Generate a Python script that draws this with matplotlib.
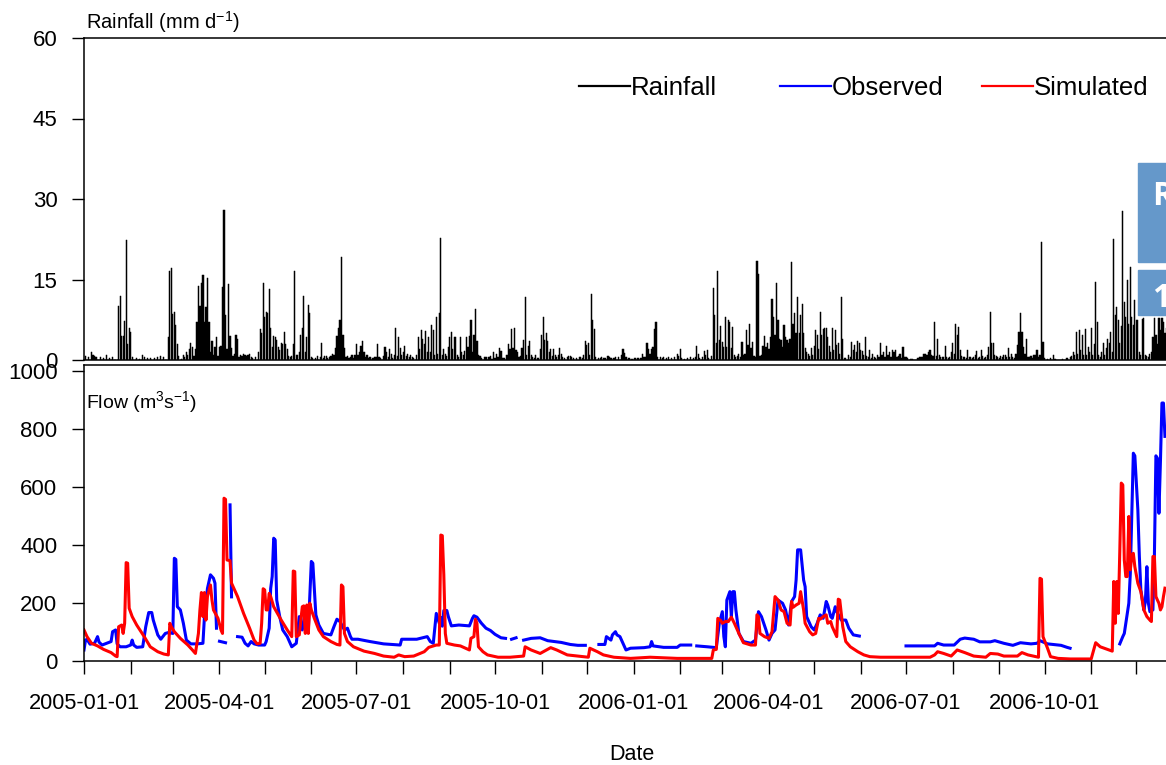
import numpy as np
import matplotlib
matplotlib.use("Agg")
import matplotlib.pyplot as plt
import matplotlib.dates as mdates
from matplotlib.patches import Rectangle
from matplotlib.ticker import FuncFormatter

plt.rcParams["font.family"] = ["Liberation Sans", "DejaVu Sans"]
plt.rcParams["mathtext.fontset"] = "custom"
plt.rcParams["mathtext.rm"] = "Liberation Sans"
plt.rcParams["mathtext.it"] = "Liberation Sans"

START = np.datetime64("2005-01-01")
NAN = float("nan")

# daily rainfall (mm/d) from 2005-01-01, ten days per row
rain_mm = [
    0, 0.8, 0, 0.5, 0, 1.5, 1.0, 0.7, 0.5, 0,
    0, 0.6, 0, 0.4, 0, 1.0, 0, 0.3, 0, 0.5,
    0, 0, 0, 10, 12, 4.5, 4.5, 7.3, 22.3, 3.0,
    5.9, 5.2, 0.5, 0, 0, 0.3, 0, 0.2, 0, 1.0,
    0.6, 0, 0.4, 0, 0.3, 0, 0, 0.4, 0, 0.6,
    0, 0.8, 0, 0.5, 0, 0, 4.2, 16.6, 17.2, 8.5,
    9.0, 6.5, 3.0, 0.8, 0, 0.2, 1.0, 0.5, 1.5, 1.0,
    2.0, 3.1, 2.5, 0.8, 2.0, 7.1, 13.8, 10.0, 14.4, 15.8,
    7.1, 9.8, 15.2, 7.1, 1.5, 3.6, 1.0, 2.4, 4.2, 0.8,
    2.5, 2.7, 13.6, 27.9, 8.3, 2.0, 14.1, 4.5, 2.3, 0.8,
    1.2, 4.7, 3.9, 0.5, 1.0, 0.8, 1.2, 1.0, 0.7, 1.0,
    1.2, 0.5, 0.3, 0, 0.5, 0, 1.5, 5.7, 5.0, 14.4,
    8.1, 9.0, 8.7, 13.2, 5.9, 2.5, 4.5, 4.3, 3.7, 2.5,
    1.8, 3.1, 3.0, 5.2, 2.9, 2.0, 0.8, 0.5, 0.8, 2.9,
    16.6, 1.0, 1.0, 1.5, 4.7, 6.0, 12.0, 1.5, 4.3, 10.2,
    8.7, 0.6, 0.3, 0, 0.4, 0.7, 0, 0.5, 3.1, 0.4,
    0.8, 0.8, 0.4, 0.6, 0.8, 1.2, 1.0, 2.2, 4.5, 5.9,
    7.5, 19.2, 4.7, 2.3, 0.6, 0.8, 0.3, 0.5, 0.9, 0.4,
    1.0, 2.9, 1.0, 1.5, 2.7, 3.6, 1.4, 0.6, 0.9, 0.4,
    0.6, 0, 0.3, 0.5, 0.5, 2.9, 0.6, 0.3, 0, 0.8,
    2.4, 1.5, 0.5, 2.0, 1.2, 0.4, 1.0, 6.0, 0.8, 4.2,
    2.2, 1.0, 1.4, 2.7, 0.8, 1.2, 0.5, 1.0, 0.5, 0.3,
    0, 1.0, 4.2, 2.0, 5.6, 4.0, 3.0, 5.4, 1.5, 4.2,
    1.5, 6.6, 5.5, 1.0, 8.0, 1.2, 8.7, 22.8, 1.0, 2.0,
    1.2, 0.8, 2.5, 4.3, 5.2, 2.0, 4.2, 4.2, 1.0, 0.5,
    4.2, 1.5, 1.0, 1.7, 4.2, 2.5, 4.5, 7.5, 1.5, 4.7,
    9.5, 3.6, 1.0, 0.8, 0.3, 0, 0.5, 0.6, 0, 0.5,
    0.8, 0.2, 1.4, 0.4, 1.2, 0.6, 2.2, 1.7, 0.4, 0.3,
    0, 1.0, 2.9, 2.0, 5.7, 2.2, 6.0, 1.8, 1.5, 0.5,
    0.8, 2.2, 3.7, 11.8, 0.9, 2.6, 3.6, 0.9, 0.6, 0.4,
    0.9, 0.3, 0.4, 2.0, 4.7, 8.0, 3.7, 5.1, 3.6, 1.5,
    2.0, 0.8, 2.0, 1.0, 0.5, 0.9, 2.3, 1.2, 0.5, 0.3,
    0, 0.6, 0.7, 0.8, 0.6, 0.4, 0, 0.3, 0, 0.5,
    0.6, 0.4, 1.0, 3.6, 2.8, 3.1, 0.9, 12.3, 7.5, 5.7,
    0.6, 0, 0.4, 0.3, 0.6, 0.4, 0.3, 0, 0.8, 0.6,
    0.4, 0, 0.3, 0.6, 0, 0.5, 0, 1.0, 2.0, 1.3,
    0.6, 0, 0.3, 0, 0.2, 0, 0.3, 0, 0.4, 0,
    0.3, 1.1, 0.5, 0.6, 3.1, 2.0, 1.2, 2.0, 2.5, 5.7,
    7.0, 0.5, 0, 0.6, 0.4, 0.5, 0, 0.3, 0.5, 0,
    0.3, 0, 0.6, 0, 1.1, 0.8, 2.0, 0.3, 0, 0.2,
    0, 0.3, 0, 0.5, 0, 0.3, 0.6, 2.6, 1.2, 0.3,
    0, 0.6, 1.7, 1.0, 1.9, 0.4, 0, 0.8, 13.4, 8.3,
    3.1, 16.5, 3.7, 6.4, 3.4, 2.5, 8.0, 2.5, 7.5, 7.1,
    2.3, 6.2, 1.0, 0.5, 0.8, 1.2, 0.5, 3.4, 1.0, 1.2,
    5.5, 2.8, 6.7, 2.2, 3.4, 0.8, 0.6, 18.4, 16.1, 0.8,
    1.0, 2.7, 4.5, 2.5, 3.1, 2.0, 4.3, 11.3, 8.0, 4.7,
    14.4, 7.5, 4.0, 3.7, 2.5, 6.5, 4.3, 3.7, 3.1, 3.9,
    18.2, 6.7, 8.7, 5.0, 11.8, 5.0, 8.4, 10.4, 5.0, 2.2,
    1.5, 1.2, 0.8, 2.3, 1.0, 2.6, 5.6, 4.7, 2.0, 9.0,
    4.7, 5.8, 5.9, 5.9, 4.3, 2.6, 1.5, 5.9, 1.9, 5.6,
    2.8, 3.1, 1.2, 11.8, 3.9, 0.4, 0.3, 0, 0.9, 0.6,
    3.4, 1.9, 2.8, 1.5, 3.6, 3.1, 1.9, 1.7, 1.0, 4.2,
    0.8, 0.5, 1.9, 0.4, 1.1, 0.6, 0.4, 0.9, 0.6, 3.2,
    1.0, 1.4, 0.5, 2.6, 1.0, 1.5, 0.6, 1.9, 1.4, 1.9,
    0.5, 0.8, 1.2, 0.4, 2.4, 0.5, 0.5, 0.3, 0, 0.2,
    0.1, 0, 0, 0, 0.3, 0.6, 0.5, 0.6, 1.1, 1.2,
    1.0, 1.4, 1.9, 1.0, 0.7, 7.0, 0.7, 3.9, 0.9, 0.6,
    0.6, 0.5, 2.6, 0.6, 0.3, 0.5, 1.5, 3.1, 1.2, 6.7,
    4.7, 6.2, 1.9, 0.8, 0.5, 0.6, 0.4, 1.9, 0.6, 0.5,
    0.3, 0.5, 0.9, 1.6, 0.4, 0.5, 1.9, 0.8, 0.3, 0.5,
    1.0, 2.5, 9.0, 3.1, 3.2, 1.0, 0.8, 0.5, 0.4, 0.8,
    0.5, 0.9, 1.0, 0.6, 2.2, 0.5, 1.2, 0.6, 0.3, 1.2,
    2.8, 5.3, 8.7, 5.3, 2.5, 1.2, 4.0, 0.5, 0.6, 0.8,
    0.4, 1.0, 0.9, 1.9, 0.5, 1.0, 22.0, 3.4, 0.3, 0,
    0.2, 0, 0.3, 0, 0.9, 0.2, 0, 0, 0, 0,
    0.1, 0, 0, 0.3, 0, 0.5, 0.8, 1.5, 1.0, 5.3,
    1.2, 5.6, 1.8, 4.7, 1.0, 5.8, 1.0, 2.5, 1.5, 5.9,
    1.0, 2.9, 14.6, 7.0, 1.0, 0.5, 1.5, 3.1, 1.0, 2.2,
    4.0, 3.1, 5.3, 1.5, 22.5, 8.4, 9.9, 7.5, 3.1, 6.3,
    27.8, 10.9, 8.1, 15.0, 6.8, 17.4, 8.1, 6.5, 11.2, 7.5,
    7.5, 1.5, 1.0, 7.6, 7.8, 1.0, 0.8, 0.6, 1.2, 1.5,
    4.3, 7.8, 4.7, 3.0, 7.8, 5.6, 7.8, 7.1, 5.0, 6.0,
]

# observed flow (m3/s), day offset from 2005-01-01; NaN marks missing record
obs_day = [0, 1, 2, 4, 7, 9, 10, 12, 15, 18, 19, 21, 22, 24, 28, 31, 32, 33, 35, 39,
           41, 43, 45, 46, 49, 51, 54, 56, 59, 60, 61, 62, 64, 66, 68, 71, 75, 79, 80, 82,
           84, 86, 87, 88, 89, 90, 94, 95, 97, 98, 99, 102, 105, 107, 109, 111, 113, 116, 120, 121,
           123, 124, 125, 126, 127, 128, 130, 132, 135, 138, 141, 143, 145, 147, 149, 151, 152, 154, 156, 159,
           164, 166, 168, 170, 173, 175, 177, 178, 182, 190, 199, 210, 211, 221, 228, 230, 232, 234, 236, 237,
           238, 239, 241, 242, 244, 249, 256, 258, 259, 261, 264, 267, 270, 273, 277, 280, 281, 284, 287, 288,
           292, 297, 303, 308, 317, 323, 328, 333, 334, 342, 346, 347, 350, 351, 353, 354, 356, 358, 360, 363,
           372, 376, 377, 378, 385, 394, 396, 403, 404, 407, 414, 420, 422, 424, 425, 426, 427, 429, 430, 431,
           432, 433, 435, 438, 443, 446, 448, 450, 453, 455, 457, 459, 461, 464, 466, 468, 470, 472, 473, 474,
           476, 478, 479, 480, 483, 485, 487, 489, 491, 493, 494, 496, 497, 499, 500, 503, 506, 508, 511, 515,
           516, 546, 565, 567, 571, 578, 582, 585, 591, 595, 602, 605, 611, 617, 622, 629, 633, 635, 640, 649,
           653, 655, 656, 688, 690, 691, 692, 694, 695, 696, 697, 698, 700, 701, 702, 704, 705, 706, 707, 708,
           710, 711, 712, 713, 714, 715, 716, 717, 718]
obs_flow = [38, 72, 75, 58, 61, 84, 65, 55, 61, 67, 101, 107, 59, 49, 49, 55, 72, 55, 47, 49,
            118, 167, 167, 141, 90, 75, 95, 98, 95, 354, 350, 187, 176, 130, 72, 59, 59, 61, 153, 250,
            297, 285, 268, 113, NAN, 68, 63, NAN, 538, 221, NAN, 84, 82, 61, 52, 67, 59, 55, 55, 67,
            113, 250, 291, 423, 417, 210, 153, 107, 84, 49, 61, 153, 107, 176, 107, 343, 337, 159, 124, 95,
            90, 118, 144, 136, 107, 113, 84, 75, 75, 67, 59, 55, 75, 75, 84, 67, 61, 164, 130, 150,
            120, 174, 174, 153, 121, 124, 121, 147, 156, 151, 130, 113, 105, 92, 80, 78, NAN, 75, 80, NAN,
            72, 78, 80, 70, 64, 57, 54, 54, NAN, 57, 57, 84, 72, 90, 101, 90, 84, 61, 38, 44,
            46, 49, 67, 52, 47, 47, 55, 55, NAN, 52, 49, 46, 130, 170, 84, 49, 210, 239, 153, 239,
            239, 176, 95, 67, 61, 72, 170, 153, 107, 72, 95, 107, 210, 199, 176, 124, 205, 222, 279, 383,
            383, 279, 256, 153, 118, 107, 130, 159, 147, 205, 193, 153, 147, 187, 170, 141, 141, 113, 90, 86,
            NAN, 52, 52, 61, 55, 55, 75, 79, 75, 66, 66, 70, 61, 54, 63, 59, 61, 70, 59, 54,
            47, 44, NAN, 59, 84, 95, 130, 199, 302, 509, 716, 707, 521, 360, 245, 176, 205, 325, 199, 170,
            176, 366, 707, 699, 509, 687, 889, 889, 774]

# simulated flow (m3/s)
sim_day = [0, 2, 5, 9, 13, 18, 21, 22, 23, 25, 26, 27, 28, 29, 30, 32, 35, 40, 44, 49,
           53, 56, 57, 58, 60, 64, 69, 72, 74, 75, 76, 77, 78, 79, 80, 81, 82, 84, 85, 86,
           89, 91, 92, 93, 94, 95, 97, 98, 102, 106, 110, 113, 115, 117, 118, 119, 120, 121, 122, 123,
           124, 126, 131, 135, 138, 139, 140, 141, 143, 145, 146, 147, 148, 149, 150, 151, 153, 156, 159, 164,
           168, 170, 171, 172, 173, 175, 179, 186, 193, 199, 206, 209, 213, 219, 226, 229, 234, 236, 237, 238,
           239, 240, 241, 246, 250, 256, 257, 259, 260, 261, 262, 265, 268, 275, 283, 292, 293, 297, 303, 310,
           314, 321, 332, 335, 336, 341, 345, 352, 363, 376, 394, 417, 418, 420, 421, 423, 424, 426, 428, 430,
           432, 435, 438, 443, 446, 447, 448, 449, 452, 455, 457, 459, 461, 463, 465, 467, 469, 470, 471, 473,
           475, 476, 478, 479, 482, 484, 486, 488, 489, 491, 493, 494, 496, 497, 499, 500, 501, 502, 504, 506,
           509, 514, 518, 522, 529, 545, 562, 565, 567, 571, 576, 580, 585, 591, 599, 602, 607, 611, 620, 623,
           627, 634, 635, 636, 637, 640, 642, 647, 655, 669, 672, 675, 681, 683, 684, 685, 686, 687, 688, 689,
           690, 691, 692, 693, 694, 695, 696, 697, 698, 700, 702, 704, 706, 708, 709, 710, 711, 712, 713, 714,
           715, 716, 717, 718]
sim_flow = [107, 84, 61, 52, 40, 29, 17, 15, 118, 124, 95, 130, 339, 337, 182, 153, 124, 84, 49, 32,
            24, 21, 130, 118, 101, 78, 55, 38, 26, 61, 95, 176, 236, 153, 236, 141, 222, 262, 210, 176,
            147, 107, 95, 561, 557, 348, 346, 268, 222, 164, 113, 72, 59, 61, 130, 249, 245, 176, 176, 233,
            222, 187, 141, 107, 84, 310, 308, 84, 90, 187, 190, 95, 193, 95, 199, 176, 147, 107, 84, 67,
            57, 55, 262, 256, 95, 67, 49, 34, 26, 17, 13, 21, 15, 17, 32, 47, 55, 55, 434, 432,
            297, 95, 61, 55, 52, 38, 78, 84, 144, 130, 49, 32, 21, 13, 13, 17, 49, 38, 26, 46,
            38, 21, 15, 13, 44, 32, 21, 13, 9, 13, 9, 9, 38, 40, 147, 139, 130, 136, 136, 151,
            130, 95, 63, 55, 55, 159, 153, 95, 84, 78, 101, 222, 210, 176, 170, 130, 124, 205, 185, 193,
            199, 239, 176, 130, 101, 90, 95, 147, 144, 153, 159, 130, 136, 118, 95, 84, 213, 210, 118, 67,
            49, 32, 21, 15, 13, 13, 13, 21, 32, 26, 17, 38, 29, 17, 13, 26, 24, 17, 17, 29,
            21, 13, 285, 282, 84, 44, 15, 9, 7, 7, 63, 49, 38, 34, 274, 130, 274, 164, 377, 613,
            607, 348, 291, 291, 498, 314, 366, 371, 325, 268, 239, 176, 153, 141, 136, 360, 360, 222, 210, 199,
            176, 187, 222, 251]

rain_ticks = [0, 15, 30, 45, 60]
flow_ticks = [0, 200, 400, 600, 800, 1000]
legend_labels = ["Rainfall", "Observed", "Simulated"]
legend_colors = ["black", "blue", "red"]


def to_dates(days):
    return START + np.asarray(days).astype("timedelta64[D]")


W, H = 1166, 765
fig = plt.figure(figsize=(W / 100, H / 100), dpi=100)


def fx(px):
    return px / W


def fy(py):
    return 1 - py / H


px_per_day = 1.5055
xmin, xmax = np.datetime64("2005-01-01"), np.datetime64("2006-12-31")
ax_w = 729 * px_per_day / W

ax1 = fig.add_axes([fx(84), fy(360), ax_w, 322 / H])
ax2 = fig.add_axes([fx(84), fy(661), ax_w, 296 / H])

# rainfall bars
ax1.bar(to_dates(range(len(rain_mm))), rain_mm, width=0.8, color="black",
        edgecolor="black", linewidth=0.35)
ax1.set_xlim(xmin, xmax)
ax1.set_ylim(0, 60)
ax1.set_yticks(rain_ticks)
ax1.tick_params(axis="x", bottom=False, labelbottom=False)

# flows
ax2.plot(to_dates(obs_day), obs_flow, color="blue", lw=2.2)
ax2.plot(to_dates(sim_day), sim_flow, color="red", lw=2.2)
ax2.set_xlim(xmin, xmax)
ax2.set_ylim(0, 1020)
ax2.set_yticks(flow_ticks)

ax2.xaxis.set_major_locator(mdates.MonthLocator())


def quarter_label(x, pos):
    d = mdates.num2date(x)
    if d.month in (1, 4, 7, 10):
        return d.strftime("%Y-%m-%d")
    return ""


ax2.xaxis.set_major_formatter(FuncFormatter(quarter_label))

for ax in (ax1, ax2):
    for s in ax.spines.values():
        s.set_linewidth(1.1)
    ax.tick_params(axis="y", length=8.6, width=1.0, pad=10.5, labelsize=16, colors="black")
ax2.tick_params(axis="x", length=9.4, width=1.0, pad=13.5, labelsize=15.7)

fig.text(fx(86), fy(29), "Rainfall (mm d$^{\\mathrm{-1}}$)", fontsize=14.5, ha="left", va="baseline")
fig.text(fx(86), fy(408), "Flow (m$^{3}$s$^{\\mathrm{-1}}$)", fontsize=14, ha="left", va="baseline")
fig.text(fx(632), fy(760), "Date", fontsize=15.5, ha="center", va="baseline")

# legend entries sit in equal-width columns, one legend per entry
for lab, col, left in zip(legend_labels, legend_colors, [579, 780, 982]):
    h = plt.Line2D([], [], color=col, lw=1.6)
    fig.legend([h], [lab], loc="center left", bbox_to_anchor=(fx(left), fy(88)),
               frameon=False, fontsize=18.5, handlelength=1.98, handletextpad=0.05,
               borderpad=0, borderaxespad=0)

# overlaid blue boxes at the right edge
box_color = "#6598CA"
fig.add_artist(Rectangle((fx(1138), fy(262)), fx(40), 99 / H, color=box_color,
                         transform=fig.transFigure, zorder=10))
fig.add_artist(Rectangle((fx(1138), fy(315)), fx(40), 45 / H, color=box_color,
                         transform=fig.transFigure, zorder=10))
fig.text(fx(1152), fy(205), "R", color="white", fontsize=23, fontweight="bold",
         family=["Open Sans", "DejaVu Sans"], ha="left", va="baseline", zorder=11)
fig.text(fx(1152), fy(307), "1", color="white", fontsize=23, fontweight="bold",
         family=["Open Sans", "DejaVu Sans"], ha="left", va="baseline", zorder=11)

fig.savefig("out.png", dpi=100)
